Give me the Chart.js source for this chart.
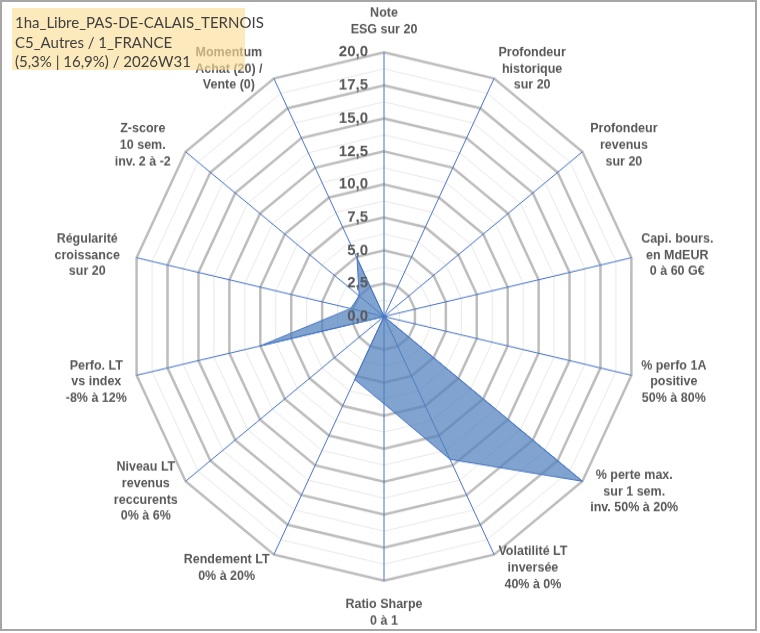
<!DOCTYPE html>
<html>
<head>
<meta charset="utf-8">
<script src="https://cdn.jsdelivr.net/npm/chart.js@4.4.1/dist/chart.umd.min.js"></script>
<style>
    html, body { margin: 0; padding: 0; background: #fff; }
    #frame { position: absolute; left: 0; top: 0; width: 757px; height: 631px; box-sizing: border-box; border: 2px solid #a6a6a6; }
    #wrap { position: absolute; left: 0; top: 0; width: 760px; height: 608px; transform-origin: 0 0; transform: scaleY(1.0411); }
    #title {
        position: absolute; left: 12px; top: 8px; width: 233px; height: 62px; box-sizing: border-box;
        padding: 5px 0 0 3px; background: rgba(250, 222, 151, 0.63);
        font: 15px Lato, "Open Sans", sans-serif; line-height: 19.5px; color: #404040; white-space: nowrap;
    }
</style>
</head>
<body>
<div id="wrap"><canvas id="radarChart"></canvas></div>
<div id="frame"></div>
<div id="title">1ha_Libre_PAS-DE-CALAIS_TERNOIS<br>C5_Autres / 1_FRANCE<br>(5,3% | 16,9%) / 2026W31</div>
<script>
// axes, clockwise from the top
const axisLabels = [
    ["Note", "ESG sur 20"],
    ["Profondeur", "historique", "sur 20"],
    ["Profondeur", "revenus", "sur 20"],
    ["Capi. bours.", "en MdEUR", "0 à 60 G€"],
    ["% perfo 1A", "positive", "50% à 80%"],
    ["% perte max.", "sur 1 sem.", "inv. 50% à 20%"],
    ["Volatilité LT", "inversée", "40% à 0%"],
    ["Ratio Sharpe", "0 à 1"],
    ["Rendement LT", "0% à 20%"],
    ["Niveau LT", "revenus", "reccurents", "0% à 6%"],
    ["Perfo. LT", "vs index", "-8% à 12%"],
    ["Régularité", "croissance", "sur 20"],
    ["Z-score", "10 sem.", "inv. 2 à -2"],
    ["Momentum", "Achat (20) /", "Vente (0)"],
];
const scores = [0, 0, 0, 0, 0, 20, 12, 6.6, 5.3, 0, 10, 2.7, 2.5, 4.9];
const tickValues = [0, 2.5, 5, 7.5, 10, 12.5, 15, 17.5, 20];
const tickLabels = ["0,0", "2,5", "5,0", "7,5", "10,0", "12,5", "15,0", "17,5", "20,0"];

const labelFont = 'bold 12.5px "Liberation Sans", Arial, sans-serif';
const labelLine = 15.6;

// draws the axis titles (centred lines like Excel) and the tick values left of the vertical axis
const overlay = {
    id: 'overlay',
    afterDraw(chart) {
        const r = chart.scales.r;
        const ctx = chart.ctx;
        const n = axisLabels.length;
        ctx.save();
        ctx.font = labelFont;
        ctx.fillStyle = '#595959';
        ctx.textAlign = 'center';
        ctx.textBaseline = 'middle';
        axisLabels.forEach(function (lines, i) {
            const deg = i * 360 / n;
            const p = r.getPointPosition(i, r.drawingArea + 10);
            const w = Math.max.apply(null, lines.map(function (l) { return ctx.measureText(l).width; }));
            const h = lines.length * labelLine;
            let cx = p.x, top;
            if (deg === 0) {
                top = p.y - h - 4;
            } else if (deg === 180) {
                top = p.y + 5;
            } else if (deg < 180) {
                cx = p.x + w / 2;
                top = p.y - h / 2 + (deg > 90 ? 4 : 0);
            } else {
                // Excel keeps the upper-left titles a little further out
                cx = p.x - w / 2 - (deg > 270 ? 7 : 0);
                top = p.y - h / 2 + (deg < 270 ? 4 : 0);
            }
            lines.forEach(function (l, k) {
                ctx.fillText(l, cx, top + labelLine * (k + 0.5));
            });
        });
        ctx.font = 'bold 15px "Liberation Sans", Arial, sans-serif';
        ctx.textAlign = 'right';
        tickValues.forEach(function (v, k) {
            const y = r.yCenter - r.getDistanceFromCenterForValue(v);
            ctx.fillText(tickLabels[k], r.xCenter - 16, y);
        });
        ctx.restore();
    }
};

const canvas = document.getElementById('radarChart');
new Chart(canvas.getContext('2d'), {
    type: 'radar',
    data: {
        labels: axisLabels,
        datasets: [{
            data: scores,
            fill: true,
            backgroundColor: 'rgba(79, 129, 189, 0.72)',
            borderColor: '#4472C4',
            borderWidth: 1,
            pointRadius: 0,
        }],
    },
    options: {
        responsive: true,
        maintainAspectRatio: false,
        animation: false,
        layout: { padding: { top: 9, bottom: 9, left: 10, right: 2 } },
        plugins: {
            legend: { display: false },
            tooltip: { enabled: false },
        },
        scales: {
            r: {
                min: 0,
                max: 20,
                ticks: { stepSize: 1.25, display: false },
                grid: {
                    color: function (c) { return c.index % 2 === 0 ? '#BDBDBD' : '#E8E8E8'; },
                    lineWidth: function (c) { return c.index % 2 === 0 ? 2.5 : 1; },
                },
                angleLines: { color: '#4472C4', lineWidth: 1 },
                pointLabels: {
                    color: 'rgba(0,0,0,0)',
                    font: { family: '"Liberation Sans", Arial, sans-serif', size: 12.5, weight: 'bold', lineHeight: 1.25 },
                    padding: 10,
                },
            },
        },
    },
    plugins: [overlay],
});
</script>
</body>
</html>
